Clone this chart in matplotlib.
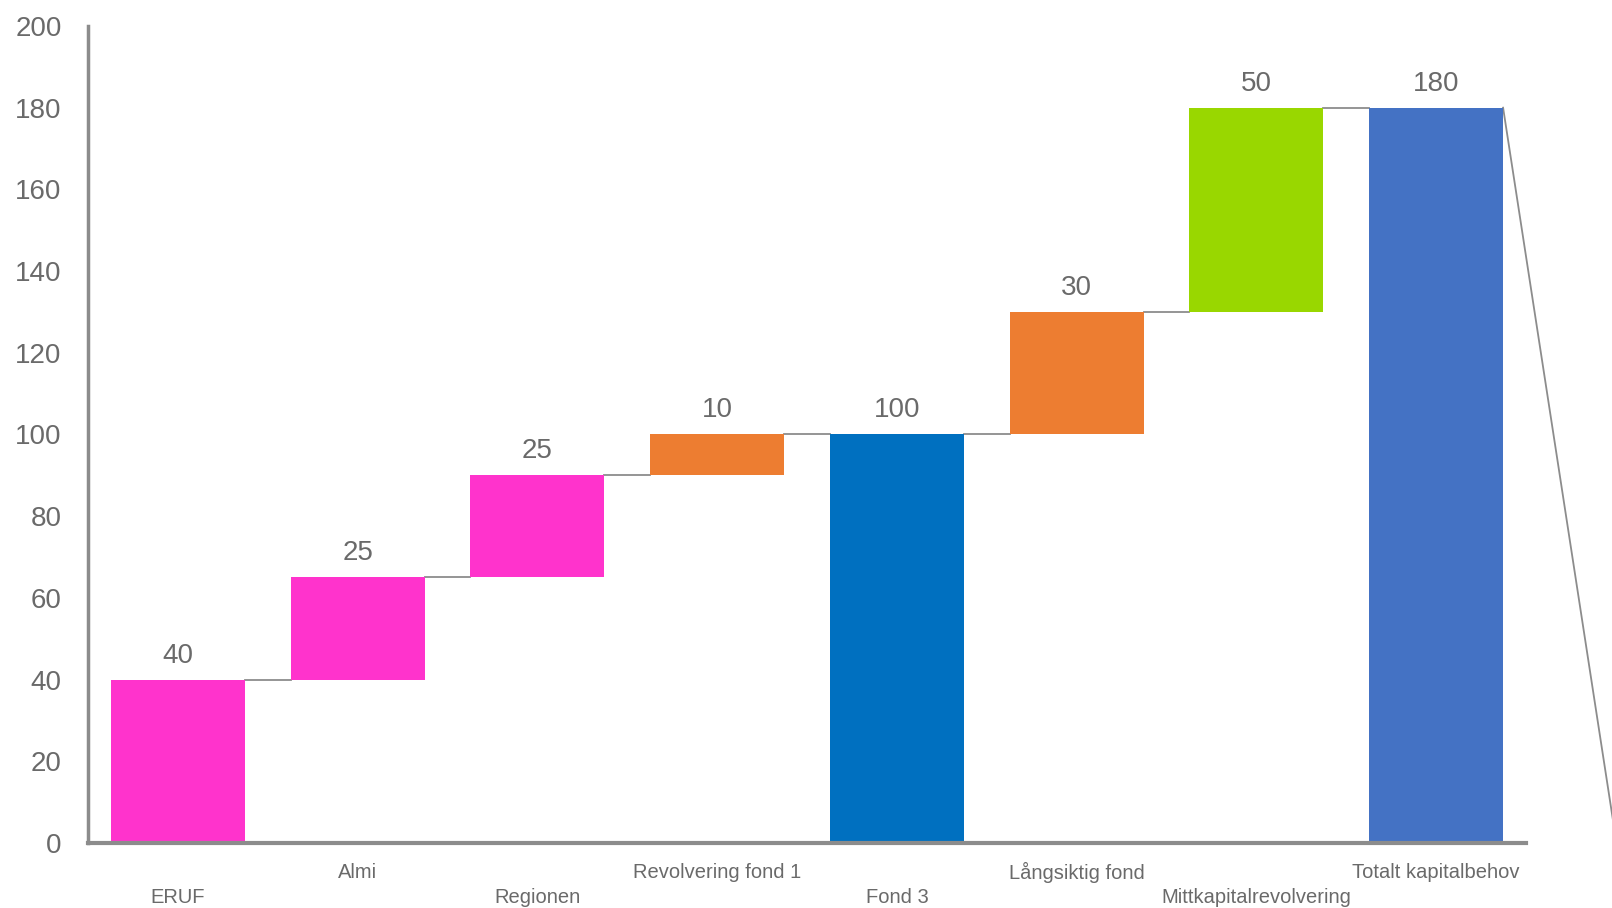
import matplotlib
matplotlib.use("Agg")
import matplotlib.pyplot as plt
import numpy as np

categories = ["ERUF", "Almi", "Regionen", "Revolvering fond 1", "Fond 3",
              "Långsiktig fond", "Mittkapitalrevolvering", "Totalt kapitalbehov"]
values = [40, 25, 25, 10, 100, 30, 50, 180]
is_total = [False, False, False, False, True, False, False, True]
colors = ["#FF33CC", "#FF33CC", "#FF33CC", "#ED7D31", "#0070C0",
          "#ED7D31", "#99D700", "#4472C4"]
yticks = [0, 20, 40, 60, 80, 100, 120, 140, 160, 180, 200]

plt.rcParams['font.family'] = ['Liberation Sans', 'DejaVu Sans']
TXT = "#6A6A6A"
AX = "#8C8C8C"

fig = plt.figure(figsize=(16.12, 9.08), dpi=100)
ax = fig.add_axes([88/1612, 65/908, (1526-88)/1612, (843-26)/908])

bottoms, tops = [], []
running = 0
for v, t in zip(values, is_total):
    if t:
        bottoms.append(0)
        running = v
    else:
        bottoms.append(running)
        running += v
    tops.append(running)

x = np.arange(len(categories))
w = 0.745
ax.bar(x, values, bottom=bottoms, width=w, color=colors, edgecolor='none', zorder=2)

# connectors
for i in range(len(categories) - 1):
    ax.plot([x[i] + w/2, x[i+1] - w/2], [tops[i], tops[i]], color=AX, lw=1.3, zorder=1)

# value labels
for i, v in enumerate(values):
    ax.text(x[i], tops[i] + 2.7, str(v), ha='center', va='bottom', fontsize=20, color=TXT)

# stray diagonal line at right
ax.plot([x[-1] + w/2, 8.0], [180, 1], color=AX, lw=1.3, clip_on=False, zorder=1)

# category labels staggered
for i, c in enumerate(categories):
    yoff = -7.1 if i % 2 == 1 else -13.3
    ax.text(x[i], yoff, c, ha='center', va='center', fontsize=14.5, color=TXT, clip_on=False)

ax.set_xlim(-0.5, len(categories) - 0.5)
ax.set_ylim(0, 200)
ax.set_yticks(yticks)
ax.set_xticks([])
ax.tick_params(axis='y', length=0, pad=19, labelsize=20, labelcolor=TXT)
for s in ['top', 'right']:
    ax.spines[s].set_visible(False)
ax.spines['left'].set_color(AX)
ax.spines['left'].set_linewidth(2.5)
ax.spines['bottom'].set_color(AX)
ax.spines['bottom'].set_linewidth(3)

fig.savefig("out.png", dpi=100)
